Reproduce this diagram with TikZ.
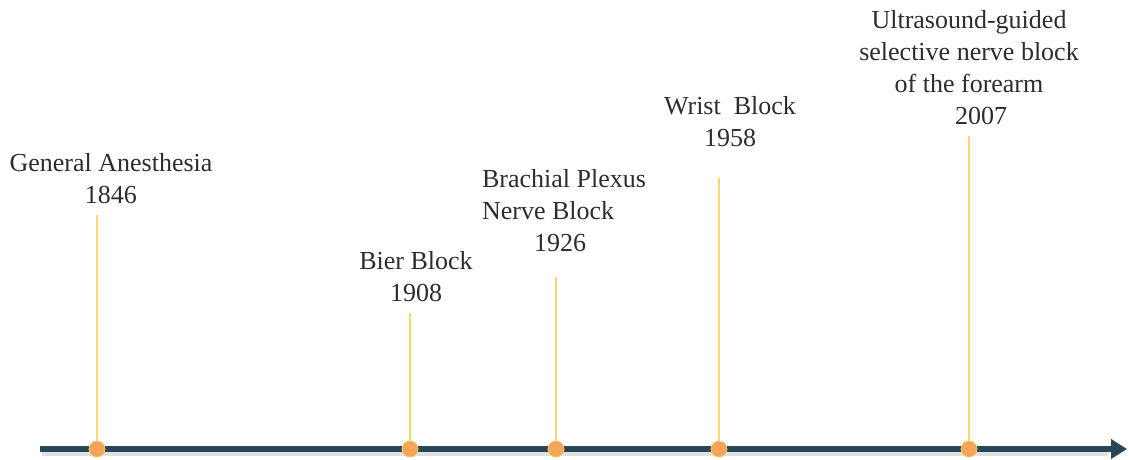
\documentclass[tikz,border=0pt]{standalone}
\usepackage{fontspec}
\setmainfont{Liberation Serif}
\usetikzlibrary{arrows.meta}
\definecolor{axiscol}{RGB}{40,72,88}
\definecolor{dotcol}{RGB}{242,166,92}
\definecolor{rimcol}{RGB}{250,200,90}
\definecolor{stemcol}{RGB}{255,214,110}
\definecolor{textcol}{RGB}{45,45,45}
\begin{document}
\begin{tikzpicture}[x=1pt, y=-1pt,
        event/.style={anchor=south, inner sep=0pt, align=center, text=textcol, font=\fontsize{26}{32}\selectfont},
        dot/.style={circle, fill=dotcol, draw=rimcol, line width=0.8pt, minimum size=16pt, inner sep=0pt},
        stem/.style={draw=stemcol, line width=2pt}]
    \useasboundingbox (0,0) rectangle (1129,459);
    % axis
    \coordinate (start) at (40,449);
    \coordinate (end) at (1127,449);
    \draw[gray!40, line width=5pt, opacity=0.6] (42,453) -- (1108,453);
    \draw[axiscol, line width=6pt, -{Triangle[length=16pt, width=19pt]}] (start) -- (end);
    % stems
    \coordinate (top1846) at (97,215);
    \coordinate (top1908) at (410,313);
    \coordinate (top1926) at (556,277);
    \coordinate (top1958) at (719,178);
    \coordinate (top2007) at (969,136);
    \node[dot] (d1846) at (97,449) {};
    \node[dot] (d1908) at (410,449) {};
    \node[dot] (d1926) at (556,449) {};
    \node[dot] (d1958) at (719,449) {};
    \node[dot] (d2007) at (969,449) {};
    \draw[stem] (d1846.north) -- (top1846);
    \draw[stem] (d1908.north) -- (top1908);
    \draw[stem] (d1926.north) -- (top1926);
    \draw[stem] (d1958.north) -- (top1958);
    \draw[stem] (d2007.north) -- (top2007);
    % labels
    \node[event] (general) at (111,204) {General Anesthesia\\1846};
    \node[event] (bier) at (416,302) {Bier Block\\1908};
    \node[event, align=left] (brachial) at (564,252) {Brachial Plexus\\Nerve Block\\\hspace*{52pt}1926};
    \node[event] (wrist) at (730,147) {Wrist~ Block\\1958};
    \node[event] (ultrasound) at (969,125) {Ultrasound-guided\\selective nerve block\\of the forearm\\\hspace*{24pt}2007};
\end{tikzpicture}
\end{document}
